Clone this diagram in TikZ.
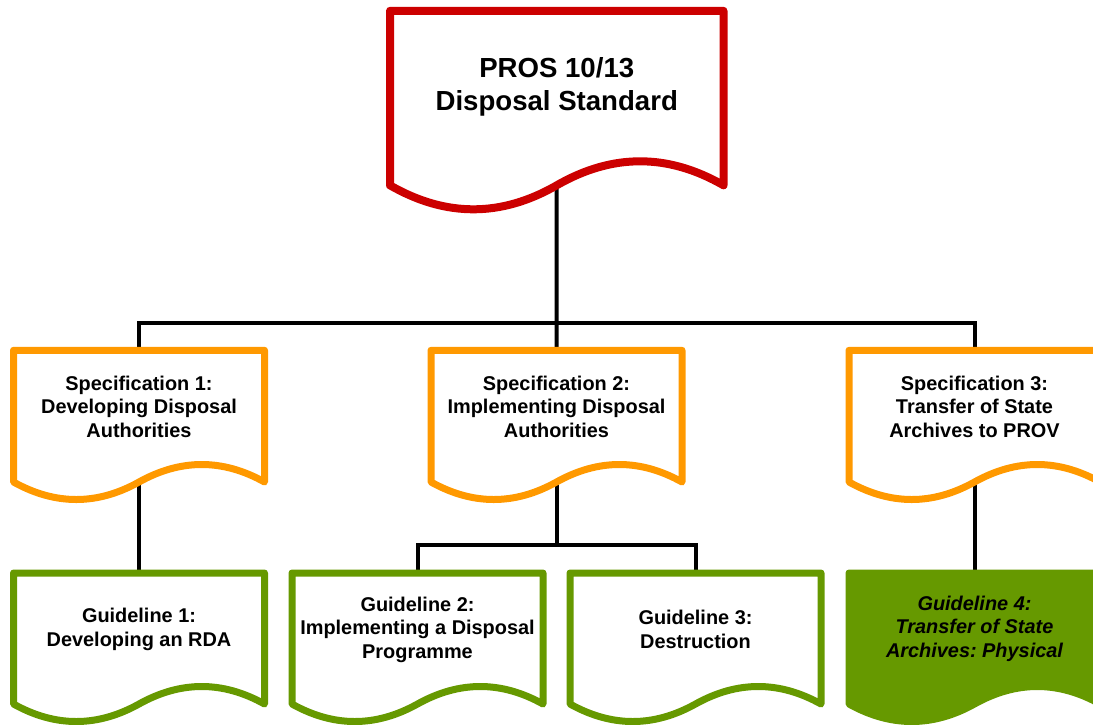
\documentclass[tikz,border=0pt]{standalone}
\usepackage{fontspec}
\setmainfont{Liberation Sans}
\frenchspacing
\definecolor{cred}{HTML}{CC0000}
\definecolor{corange}{HTML}{FF9900}
\definecolor{cgreen}{HTML}{669900}
\tikzset{
  topdoc/.style={draw=cred, line width=8pt, fill=white, line join=round},
  specdoc/.style={draw=corange, line width=7pt, fill=white, line join=round},
  guidedoc/.style={draw=cgreen, line width=7pt, fill=white, line join=round},
  guidefill/.style={draw=cgreen, line width=7pt, fill=cgreen, line join=round},
  conn/.style={draw=black, line width=4pt},
  toptext/.style={font=\fontsize{27.6}{33}\selectfont\bfseries, align=center, inner sep=0pt},
  boxtext/.style={font=\fontsize{19.9}{23.6}\selectfont\bfseries, align=center, inner sep=0pt},
}
% #1 name, #2 left x, #3 top y, #4 width, #5 height, #6 amplitude, #7 style
\newcommand\mydocbox[7]{%
  \draw[#7] (#2,#3) -- ({#2+#4},#3) -- ({#2+#4},{#3+#5})
    .. controls ({#2+#4*5/6},{#3+#5-#6*4/3}) and ({#2+#4*2/3},{#3+#5-#6*4/3}) .. ({#2+#4/2},{#3+#5})
    .. controls ({#2+#4/3},{#3+#5+#6*4/3}) and ({#2+#4/6},{#3+#5+#6*4/3}) .. (#2,{#3+#5}) -- cycle;
  \coordinate (#1-t) at ({#2+#4/2},#3);
  \coordinate (#1-b) at ({#2+#4/2},{#3+#5});
}
\begin{document}
\begin{tikzpicture}[x=1pt,y=-1pt]
\useasboundingbox (0,0) rectangle (1093,724);
\clip (0,0) rectangle (1093,724);
% coordinates of box tops / wave midpoints
\coordinate (top-b) at (556.75,185.3);
\coordinate (s1-t) at (139,350.3);
\coordinate (s2-t) at (556.5,350.3);
\coordinate (s3-t) at (974.5,350.3);
\coordinate (s1-b) at (139,482);
\coordinate (s2-b) at (556.5,482);
\coordinate (s3-b) at (974.5,482);
\coordinate (g1-t) at (139,573);
\coordinate (g2-t) at (417.5,573);
\coordinate (g3-t) at (695.5,573);
\coordinate (g4-t) at (974.5,573);
\coordinate (j1) at (556.75,322.5);
\coordinate (j2) at (556.5,545);
% connectors
\draw[conn] (top-b) -- (s2-t);
\draw[conn] (s1-t) -- (s1-t |- j1) -- (s3-t |- j1) -- (s3-t);
\draw[conn] (s1-b) -- (g1-t);
\draw[conn] (s2-b) -- (j2);
\draw[conn] (g2-t) -- (g2-t |- j2) -- (g3-t |- j2) -- (g3-t);
\draw[conn] (s3-b) -- (g4-t);
% boxes
\mydocbox{top}{390}{10.8}{333.5}{174.5}{24}{topdoc}
\mydocbox{s1}{13.5}{350.3}{251}{131.7}{17.5}{specdoc}
\mydocbox{s2}{431}{350.3}{251}{131.7}{17.5}{specdoc}
\mydocbox{s3}{849}{350.3}{251}{131.7}{17.5}{specdoc}
\mydocbox{g1}{13.5}{573}{251}{131}{17.5}{guidedoc}
\mydocbox{g2}{292}{573}{251}{131}{17.5}{guidedoc}
\mydocbox{g3}{570}{573}{251}{131}{17.5}{guidedoc}
\mydocbox{g4}{849}{573}{251}{131}{17.5}{guidefill}
% texts
\node[toptext] (ttop) at (556.75,87) {PROS 10/13\\Disposal Standard};
\node[boxtext] (ts1) at (139,406.5) {Specification 1:\\Developing Disposal\\Authorities};
\node[boxtext] (ts2) at (556.5,406.5) {Specification 2:\\Implementing Disposal\\Authorities};
\node[boxtext] (ts3) at (974.5,406.5) {Specification 3:\\Transfer of State\\Archives to PROV};
\node[boxtext] (tg1) at (139,629.5) {Guideline 1:\\Developing an RDA};
\node[boxtext] (tg2) at (417.5,629.5) {Guideline 2:\\Implementing a Disposal\\Programme};
\node[boxtext] (tg3) at (695.5,629.5) {Guideline 3:\\Destruction};
\node[boxtext, font=\fontsize{19.9}{23.6}\selectfont\bfseries\itshape] (tg4) at (974.5,628.5) {Guideline 4:\\Transfer of State\\Archives: Physical};
\end{tikzpicture}
\end{document}
